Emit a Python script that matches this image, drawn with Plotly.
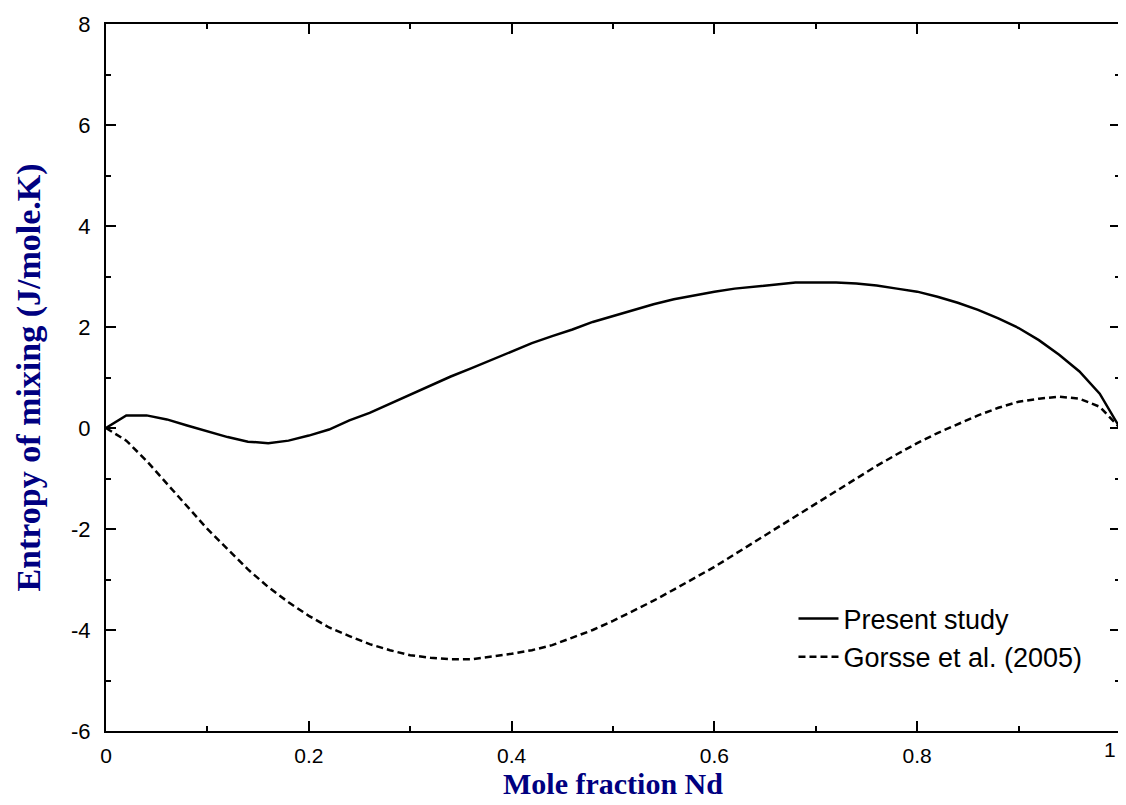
import plotly.graph_objects as go

x_frac = [0.00, 0.02, 0.04, 0.06, 0.08, 0.10, 0.12, 0.14, 0.16, 0.18,
          0.20, 0.22, 0.24, 0.26, 0.28, 0.30, 0.32, 0.34, 0.36, 0.38,
          0.40, 0.42, 0.44, 0.46, 0.48, 0.50, 0.52, 0.54, 0.56, 0.58,
          0.60, 0.62, 0.64, 0.66, 0.68, 0.70, 0.72, 0.74, 0.76, 0.78,
          0.80, 0.82, 0.84, 0.86, 0.88, 0.90, 0.92, 0.94, 0.96, 0.98, 1.00]

present_study = [0.00, 0.25, 0.25, 0.17, 0.05, -0.07, -0.18, -0.27, -0.30, -0.25,
                 -0.15, -0.03, 0.15, 0.30, 0.48, 0.66, 0.85, 1.02, 1.18, 1.35,
                 1.52, 1.68, 1.82, 1.95, 2.10, 2.22, 2.34, 2.45, 2.55, 2.63,
                 2.70, 2.76, 2.80, 2.84, 2.88, 2.88, 2.88, 2.86, 2.82, 2.76,
                 2.70, 2.60, 2.48, 2.34, 2.17, 1.98, 1.74, 1.45, 1.12, 0.68, 0.00]

gorsse_2005 = [0.00, -0.25, -0.65, -1.10, -1.55, -2.00, -2.40, -2.80, -3.15, -3.45,
               -3.72, -3.95, -4.12, -4.28, -4.40, -4.50, -4.55, -4.58, -4.58, -4.53,
               -4.47, -4.40, -4.30, -4.15, -4.00, -3.82, -3.62, -3.42, -3.20, -2.97,
               -2.75, -2.50, -2.25, -2.00, -1.75, -1.50, -1.25, -1.00, -0.75, -0.52,
               -0.30, -0.10, 0.08, 0.25, 0.40, 0.52, 0.58, 0.62, 0.58, 0.42, 0.00]

x_ticks = [0, 0.2, 0.4, 0.6, 0.8, 1]
x_tick_labels = ["0", "0.2", "0.4", "0.6", "0.8", "1"]
y_ticks = [-6, -4, -2, 0, 2, 4, 6, 8]
y_tick_labels = ["-6", "-4", "-2", "0", "2", "4", "6", "8"]

fig = go.Figure()
fig.add_trace(go.Scatter(x=x_frac, y=present_study, mode="lines", name="Present study",
                         line=dict(color="black", width=2.5)))
fig.add_trace(go.Scatter(x=x_frac, y=gorsse_2005, mode="lines", name="Gorsse et al. (2005)",
                         line=dict(color="black", width=2.5, dash="7px,4px")))

serif = "Liberation Serif, Times New Roman, serif"
sans = "Liberation Sans, Arial, sans-serif"
tick_font = dict(family=sans, size=22, color="black")
xtick_font = dict(family=sans, size=21, color="black")

axis_common = dict(showline=True, linecolor="black", linewidth=2, mirror="ticks",
                   ticks="inside", ticklen=10, tickwidth=2, tickcolor="black",
                   showgrid=False, zeroline=False, ticklabeloverflow="allow")

# last x tick label is drawn as an annotation so it stays inside the page
fig.update_xaxes(range=[0, 1], tickvals=x_ticks, ticktext=x_tick_labels[:-1] + [""],
                 ticklabelstandoff=5, tickfont=xtick_font,
                 title=dict(text="<b>Mole fraction Nd</b>",
                            font=dict(family=serif, size=30, color="#000080"), standoff=0),
                 minor=dict(dtick=0.1, ticks="inside", ticklen=5, tickwidth=2, tickcolor="black"),
                 **axis_common)
fig.update_yaxes(range=[-6, 8], tickvals=y_ticks, ticktext=y_tick_labels,
                 ticklabelstandoff=9, tickfont=tick_font,
                 title=dict(text="<b>Entropy of mixing (J/mole.K)</b>",
                            font=dict(family=serif, size=34, color="#000080"), standoff=20),
                 minor=dict(dtick=1, ticks="inside", ticklen=5, tickwidth=2, tickcolor="black"),
                 **axis_common)

fig.add_annotation(x=x_ticks[-1], y=0, xref="x", yref="paper", text=x_tick_labels[-1],
                   showarrow=False, xanchor="right", yanchor="top", yshift=-5, xshift=-2,
                   font=xtick_font)

# page body has an 8px margin, so the figure is 8px smaller and margins shifted
fig.update_layout(
    width=1118, height=797,
    margin=dict(l=98, r=4, t=11, b=74),
    plot_bgcolor="white", paper_bgcolor="white",
    legend=dict(x=0.678, y=0.193, xanchor="left", yanchor="top",
                font=dict(family=sans, size=27, color="black"),
                bgcolor="rgba(0,0,0,0)", tracegroupgap=0, itemwidth=40),
    showlegend=True,
)

fig.write_html("out.html")
